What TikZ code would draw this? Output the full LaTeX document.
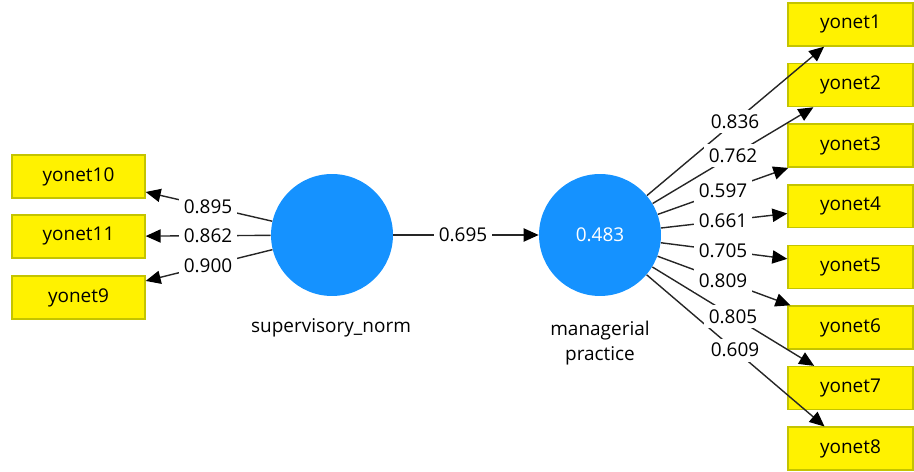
\documentclass[tikz,border=0pt]{standalone}
\usepackage{fontspec}
\setmainfont{Open Sans}
\usetikzlibrary{arrows.meta,calc}

\definecolor{latentblue}{HTML}{1592FF}
\definecolor{itemedge}{HTML}{C4C400}

\begin{document}
\begin{tikzpicture}[x=0.02cm,y=-0.02cm,
    latent/.style={circle,fill=latentblue,minimum size=2.44cm,inner sep=0pt,
      text=white,font=\fontsize{10.8}{12}\selectfont},
    item/.style={draw=itemedge,fill=yellow,line width=0.8pt,minimum width=2.66cm,
      minimum height=0.86cm,inner sep=0pt,font=\fontsize{10.8}{12}\selectfont},
    loading/.style={draw=black!85,line width=0.8pt,
      -{Triangle[length=8.5pt,width=7.5pt,color=black]}},
    coef/.style={fill=white,inner sep=2.5pt,font=\fontsize{10.8}{12}\selectfont},
    caption/.style={align=center,font=\fontsize{10.8}{14.7}\selectfont}]
  \useasboundingbox (0,0) rectangle (914,472);

  % constructs
  \node[latent] (sn) at (332,235) {};
  \node[latent] (mp) at (600,235) {0.483};
  \node[caption] (snname) at (331,328) {supervisory\_norm};
  \node[caption] (mpname) at (600,343) {managerial\\practice};

  % indicators
  \node[item] (y10) at (78.5,176.5) {yonet10};
  \node[item] (y11) at (78.5,236.5) {yonet11};
  \node[item] (y9) at (78.5,297.5) {yonet9};
  \foreach \i in {1,...,8} {
    \node[item,minimum width=2.5cm] (y\i) at (850.5,{24.5+60.6*(\i-1)}) {yonet\i};
  }

  % paths
  \draw[loading] (sn) -- (mp);
  \foreach \j in {10,11,9} {
    \draw[loading] (sn) -- (y\j);
  }
  \foreach \i in {1,...,8} {
    \draw[loading] (mp) -- (y\i);
  }

  % coefficients
  \node[coef] (b1) at ($(sn)!0.489!(mp)$) {0.695};
  \foreach \j/\v in {10/0.895,11/0.862,9/0.900} {
    \node[coef] (l\j) at ($(sn)!0.489!(y\j)$) {\v};
  }
  \foreach \i/\t/\v in {1/0.539/0.836,2/0.531/0.762,3/0.491/0.597,4/0.491/0.661,
      5/0.491/0.705,6/0.491/0.809,7/0.531/0.805,8/0.539/0.609} {
    \node[coef] (l\i) at ($(mp)!\t!(y\i)$) {\v};
  }
\end{tikzpicture}
\end{document}
